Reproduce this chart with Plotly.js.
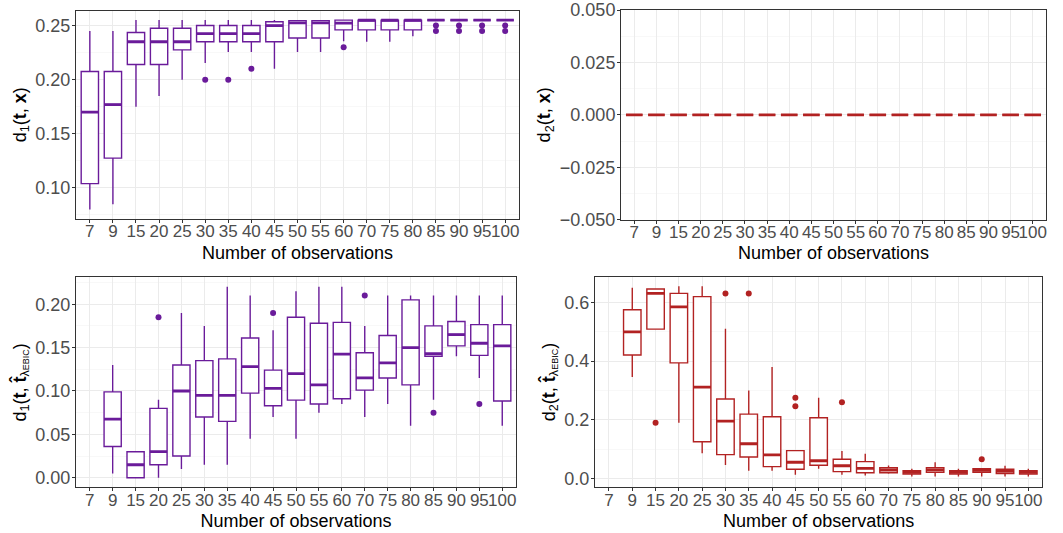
<!DOCTYPE html>
<html>
<head>
<meta charset="utf-8">
<script src="https://cdn.plot.ly/plotly-3.0.1.min.js"></script>
<style>
  html, body { margin: 0; padding: 0; background: #ffffff; }
  #chart { width: 1063px; height: 533px; }
</style>
</head>
<body>
<div id="chart"></div>
<script>
// ---------- categories ----------
const categories = ['7','9','15','20','25','30','35','40','45','50','55','60','70','75','80','85','90','95','100'];

// ---------- panel 1 : d1(t, x) ----------
const p1Cats  = categories;
const p1Upper = [0.245,0.245,0.255,0.255,0.255,0.255,0.255,0.255,0.255,0.255,0.255,0.255,0.255,0.255,0.255,0.255,0.255,0.255,0.255];
const p1Q3    = [0.2075,0.2075,0.2435,0.2475,0.2475,0.250,0.250,0.250,0.2535,0.2545,0.2545,0.2550,0.255,0.255,0.255,0.255,0.255,0.255,0.255];
const p1Med   = [0.170,0.177,0.235,0.235,0.235,0.2425,0.2425,0.2425,0.250,0.2525,0.2525,0.2522,0.255,0.255,0.255,0.255,0.255,0.255,0.255];
const p1Q1    = [0.104,0.1275,0.214,0.214,0.2275,0.235,0.235,0.235,0.235,0.2385,0.2385,0.246,0.246,0.246,0.246,0.255,0.255,0.255,0.255];
const p1Lower = [0.080,0.085,0.175,0.185,0.200,0.2155,0.2255,0.2255,0.210,0.2255,0.2255,0.2355,0.235,0.235,0.240,0.255,0.255,0.255,0.255];
const p1OutCats = ['30','35','40','60','85','85','90','90','95','95','100','100'];
const p1OutVals = [0.200,0.200,0.210,0.230,0.250,0.245,0.250,0.245,0.250,0.245,0.250,0.245];

// ---------- panel 2 : d2(t, x) ----------
const p2Cats  = categories;
const p2Upper = [0,0,0,0,0,0,0,0,0,0,0,0,0,0,0,0,0,0,0];
const p2Q3    = [0,0,0,0,0,0,0,0,0,0,0,0,0,0,0,0,0,0,0];
const p2Med   = [0,0,0,0,0,0,0,0,0,0,0,0,0,0,0,0,0,0,0];
const p2Q1    = [0,0,0,0,0,0,0,0,0,0,0,0,0,0,0,0,0,0,0];
const p2Lower = [0,0,0,0,0,0,0,0,0,0,0,0,0,0,0,0,0,0,0];
const p2OutCats = [];
const p2OutVals = [];

// ---------- panel 3 : d1(t, t_hat_lambdaEBIC) ----------
const p3Cats  = ['9','15','20','25','30','35','40','45','50','55','60','70','75','80','85','90','95','100'];
const p3Upper = [0.130,0.030,0.090,0.190,0.175,0.220,0.210,0.170,0.215,0.220,0.220,0.175,0.210,0.210,0.210,0.210,0.210,0.210];
const p3Q3    = [0.099,0.030,0.080,0.130,0.135,0.137,0.161,0.124,0.185,0.178,0.179,0.144,0.164,0.205,0.175,0.180,0.1765,0.1765];
const p3Med   = [0.0675,0.015,0.030,0.100,0.095,0.095,0.128,0.103,0.120,0.107,0.1425,0.115,0.1325,0.150,0.143,0.165,0.155,0.152];
const p3Q1    = [0.036,0.000,0.015,0.025,0.070,0.065,0.0975,0.083,0.0895,0.085,0.091,0.101,0.115,0.107,0.140,0.152,0.141,0.0885];
const p3Lower = [0.005,0.000,0.000,0.010,0.015,0.015,0.045,0.070,0.045,0.075,0.085,0.070,0.085,0.060,0.090,0.140,0.115,0.060];
const p3OutCats = ['20','45','70','85','95'];
const p3OutVals = [0.185,0.190,0.210,0.075,0.085];

// ---------- panel 4 : d2(t, t_hat_lambdaEBIC) ----------
const p4Cats  = ['9','15','20','25','30','35','40','45','50','55','60','70','75','80','85','90','95','100'];
const p4Upper = [0.650,0.646,0.655,0.655,0.510,0.300,0.380,0.0945,0.275,0.0935,0.084,0.044,0.033,0.055,0.033,0.033,0.043,0.033];
const p4Q3    = [0.575,0.646,0.631,0.620,0.271,0.219,0.210,0.0945,0.207,0.065,0.057,0.036,0.026,0.036,0.026,0.033,0.031,0.026];
const p4Med   = [0.500,0.631,0.585,0.311,0.195,0.118,0.080,0.055,0.060,0.043,0.034,0.0285,0.0205,0.0285,0.0205,0.027,0.024,0.0205];
const p4Q1    = [0.421,0.509,0.394,0.125,0.081,0.073,0.040,0.031,0.0445,0.023,0.019,0.019,0.015,0.0205,0.015,0.0205,0.016,0.015];
const p4Lower = [0.346,0.509,0.190,0.086,0.0455,0.026,0.026,0.0125,0.033,0.012,0.010,0.016,0.006,0.006,0.006,0.006,0.006,0.006];
const p4OutCats = ['15','30','35','45','45','55','90'];
const p4OutVals = [0.190,0.631,0.631,0.275,0.246,0.260,0.065];

// ---------- styling ----------
const PURPLE = '#6A1B9A';
const RED = '#B22222';
const FONT = 'Liberation Sans, Arial, Helvetica, sans-serif';
const BOXW = 0.75;

const idx = c => categories.indexOf(c);

function panelTraces(cats, lower, q1, med, q3, upper, outCats, outVals, color, xa, ya) {
  const xs = cats.map(idx);
  const traces = [];
  traces.push({
    type: 'box', xaxis: xa, yaxis: ya,
    x: xs, q1: q1, median: med, q3: q3, lowerfence: lower, upperfence: upper,
    width: BOXW, whiskerwidth: 0,
    fillcolor: '#ffffff', line: { color: color, width: 1.4 },
    boxpoints: false, hoverinfo: 'skip', showlegend: false
  });
  // thicker median line (ggplot fatten)
  const mx = [], my = [];
  xs.forEach((x, i) => { mx.push(x - BOXW / 2, x + BOXW / 2, null); my.push(med[i], med[i], null); });
  traces.push({
    type: 'scatter', mode: 'lines', xaxis: xa, yaxis: ya,
    x: mx, y: my, line: { color: color, width: 2.8 },
    hoverinfo: 'skip', showlegend: false
  });
  if (outCats.length) {
    traces.push({
      type: 'scatter', mode: 'markers', xaxis: xa, yaxis: ya,
      x: outCats.map(idx), y: outVals,
      marker: { color: color, size: 6 },
      hoverinfo: 'skip', showlegend: false
    });
  }
  return traces;
}

const data = [].concat(
  panelTraces(p1Cats, p1Lower, p1Q1, p1Med, p1Q3, p1Upper, p1OutCats, p1OutVals, PURPLE, 'x', 'y'),
  panelTraces(p2Cats, p2Lower, p2Q1, p2Med, p2Q3, p2Upper, p2OutCats, p2OutVals, RED, 'x2', 'y2'),
  panelTraces(p3Cats, p3Lower, p3Q1, p3Med, p3Q3, p3Upper, p3OutCats, p3OutVals, PURPLE, 'x3', 'y3'),
  panelTraces(p4Cats, p4Lower, p4Q1, p4Med, p4Q3, p4Upper, p4OutCats, p4OutVals, RED, 'x4', 'y4')
);

const W = 1063, H = 533;
const px = (a, b) => [a / W, b / W];
const py = (top, bottom) => [1 - bottom / H, 1 - top / H];

function xAxis(domain, anchor) {
  return {
    domain: domain, anchor: anchor,
    range: [-0.6, categories.length - 0.4],
    tickmode: 'array', tickvals: categories.map((c, i) => i), ticktext: categories,
    tickangle: 0, ticklabelstandoff: -6,
    showgrid: true, gridcolor: '#EBEBEB', gridwidth: 1,
    zeroline: false, showline: true, mirror: true, linecolor: '#333333', linewidth: 1,
    ticks: 'outside', ticklen: 3, tickcolor: '#333333', tickwidth: 1,
    tickfont: { family: FONT, size: 17, color: '#4D4D4D' },
    title: { text: 'Number of observations', font: { family: FONT, size: 18, color: '#000000' }, standoff: 5 },
    automargin: false, fixedrange: true
  };
}
function yAxis(domain, anchor, range, dtick, fmt, titleText) {
  return {
    domain: domain, anchor: anchor, range: range,
    tick0: 0, dtick: dtick, tickformat: fmt, ticklabelstandoff: -2,
    showgrid: true, gridcolor: '#EBEBEB', gridwidth: 1,
    minor: { dtick: dtick / 2, tick0: 0, showgrid: true, gridcolor: '#F3F3F3', gridwidth: 0.6, ticks: '' },
    zeroline: false, showline: true, mirror: true, linecolor: '#333333', linewidth: 1,
    ticks: 'outside', ticklen: 3, tickcolor: '#333333', tickwidth: 1,
    tickfont: { family: FONT, size: 18, color: '#4D4D4D' },
    title: { text: titleText, font: { family: FONT, size: 18, color: '#000000' }, standoff: 4 },
    automargin: false, fixedrange: true
  };
}

const sub2 = "<span style='font-size:9px'>EBIC</span>";
const layout = {
  width: W, height: H,
  margin: { l: 0, r: 0, t: 0, b: 0 },
  paper_bgcolor: '#ffffff', plot_bgcolor: '#ffffff',
  showlegend: false,
  font: { family: FONT },
  xaxis:  xAxis(px(76, 519), 'y'),
  yaxis:  yAxis(py(10.7, 219), 'x', [0.0713, 0.2637], 0.05, '.2f', 'd<sub>1</sub>(<b>t</b>, <b>x</b>)'),
  xaxis2: xAxis(px(621, 1046), 'y2'),
  yaxis2: yAxis(py(10, 219.7), 'x2', [-0.05, 0.05], 0.025, '.3f', 'd<sub>2</sub>(<b>t</b>, <b>x</b>)'),
  xaxis3: xAxis(px(76, 516), 'y3'),
  yaxis3: yAxis(py(277.3, 487.3), 'x3', [-0.011, 0.231], 0.05, '.2f', 'd<sub>1</sub>(<b>t</b>, <b>t\u0302</b><sub>\u03bb' + sub2 + '</sub>)'),
  xaxis4: xAxis(px(595, 1042.3), 'y4'),
  yaxis4: yAxis(py(276.7, 487.3), 'x4', [-0.0305, 0.688], 0.2, '.1f', 'd<sub>2</sub>(<b>t</b>, <b>t\u0302</b><sub>\u03bb' + sub2 + '</sub>)')
};

Plotly.newPlot('chart', data, layout, { displayModeBar: false, staticPlot: true });
</script>
</body>
</html>
